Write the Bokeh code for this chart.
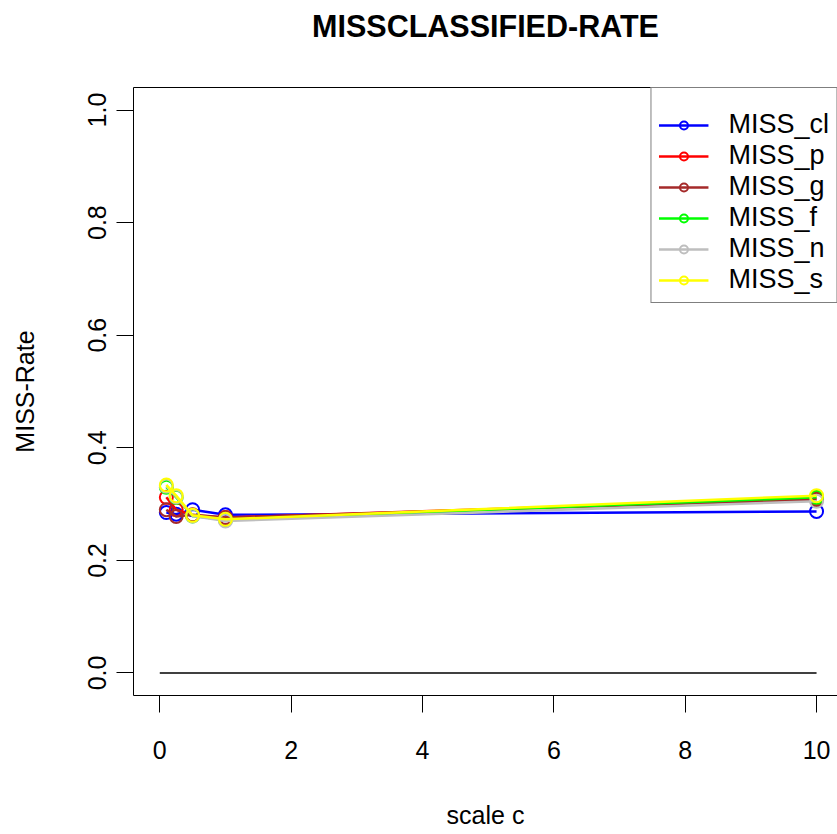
from bokeh.plotting import figure
from bokeh.models import Range1d, LinearAxis, FixedTicker, Legend, LegendItem
from bokeh.embed import file_html
from bokeh.resources import INLINE

# ---- data ----
scale_c = [0.1, 0.25, 0.5, 1, 10]
miss_cl = [0.285, 0.282, 0.290, 0.281, 0.287]
miss_p = [0.312, 0.290, 0.280, 0.276, 0.310]
miss_g = [0.290, 0.278, 0.281, 0.276, 0.308]
miss_f = [0.330, 0.312, 0.279, 0.272, 0.312]
miss_n = [0.332, 0.313, 0.279, 0.270, 0.305]
miss_s = [0.334, 0.315, 0.280, 0.273, 0.315]
zero_x = [0, 10]
zero_y = [0, 0]
series_names = ["MISS_cl", "MISS_p", "MISS_g", "MISS_f", "MISS_n", "MISS_s"]
series_vals = [miss_cl, miss_p, miss_g, miss_f, miss_n, miss_s]
series_colors = ["#0000FF", "#FF0000", "#A52A2A", "#00FF00", "#BEBEBE", "#FFFF00"]
x_ticks = [0, 2, 4, 6, 8, 10]
y_ticks = [0.0, 0.2, 0.4, 0.6, 0.8, 1.0]
y_tick_labels = {0.0: "0.0", 0.2: "0.2", 0.4: "0.4", 0.6: "0.6", 0.8: "0.8", 1.0: "1.0"}
title_text = "MISSCLASSIFIED-RATE"

FONT = "Liberation Sans"

p = figure(width=837, height=834, output_backend="svg", toolbar_location=None,
           x_range=Range1d(-0.4, 10.319), y_range=Range1d(-0.04, 1.04),
           min_border_left=133, min_border_right=0, min_border_top=87, min_border_bottom=139,
           title=title_text, x_axis_label="scale c", y_axis_label="MISS-Rate")
p.background_fill_color = "white"
p.border_fill_color = "white"
p.outline_line_color = None
p.grid.visible = False

p.title.align = "center"
p.title.text_font = FONT
p.title.text_font_size = "30.5px"
p.title.text_font_style = "bold"
p.title.text_color = "black"
p.title.standoff = 0

for ax in (p.xaxis[0], p.yaxis[0]):
    ax.axis_line_color = "black"
    ax.axis_line_width = 1
    ax.major_tick_in = 0
    ax.major_tick_out = 17
    ax.major_tick_line_color = "black"
    ax.minor_tick_line_color = None
    ax.major_label_text_font = FONT
    ax.major_label_text_font_size = "25px"
    ax.major_label_text_color = "black"
    ax.axis_label_text_font = FONT
    ax.axis_label_text_font_size = "25px"
    ax.axis_label_text_font_style = "normal"
    ax.axis_label_text_color = "black"

p.xaxis[0].ticker = FixedTicker(ticks=x_ticks)
p.xaxis[0].major_label_standoff = 28
p.xaxis[0].axis_label_standoff = 39
p.yaxis[0].ticker = FixedTicker(ticks=y_ticks)
p.yaxis[0].major_label_overrides = y_tick_labels
p.yaxis[0].major_label_orientation = "vertical"
p.yaxis[0].major_label_standoff = 10
p.yaxis[0].axis_label_standoff = 47

# top border of the box; its (blank) axis label only reserves room below the title
top_axis = LinearAxis(ticker=FixedTicker(ticks=[]), major_tick_out=0, major_tick_in=0,
                      minor_tick_line_color=None, major_label_text_font_size="0px",
                      major_label_standoff=0, axis_line_color="black",
                      axis_label=" ", axis_label_text_font_size="20px",
                      axis_label_standoff=20)
p.add_layout(top_axis, "above")

p.line(zero_x, zero_y, line_color="black", line_width=1.3)

items = []
for name, vals, col in zip(series_names, series_vals, series_colors):
    lr = p.line(scale_c, vals, line_color=col, line_width=2.5)
    cr = p.scatter(scale_c, vals, marker="circle", size=13, fill_color=None,
                   line_color=col, line_width=2)
    items.append(LegendItem(label=name, renderers=[lr, cr]))

legend = Legend(items=items, location="top_right", margin=0, padding=7,
                border_line_color="black", border_line_width=1,
                background_fill_color="white", background_fill_alpha=1.0,
                label_text_font=FONT, label_text_font_size="27px", label_text_color="black",
                glyph_width=50, glyph_height=20, label_height=20,
                label_standoff=20, spacing=0,
                title=" ", title_text_font_size="8px", title_standoff=5)
p.add_layout(legend, "center")

open("out.html", "w").write(file_html(p, INLINE))
